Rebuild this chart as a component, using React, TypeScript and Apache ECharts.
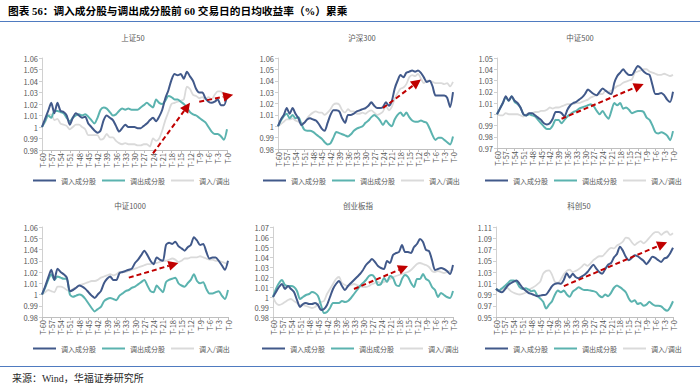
import React, { useEffect, useRef } from "react";
import * as echarts from "echarts";

const categories = [
  "T-60", "T-59", "T-58", "T-57", "T-56", "T-55", "T-54", "T-53", "T-52", "T-51",
  "T-50", "T-49", "T-48", "T-47", "T-46", "T-45", "T-44", "T-43", "T-42", "T-41",
  "T-40", "T-39", "T-38", "T-37", "T-36", "T-35", "T-34", "T-33", "T-32", "T-31",
  "T-30", "T-29", "T-28", "T-27", "T-26", "T-25", "T-24", "T-23", "T-22", "T-21",
  "T-20", "T-19", "T-18", "T-17", "T-16", "T-15", "T-14", "T-13", "T-12", "T-11",
  "T-10", "T-9", "T-8", "T-7", "T-6", "T-5", "T-4", "T-3", "T-2", "T-1", "T-0",
];

const legendNames = ["调入成分股", "调出成分股", "调入/调出"];
const panelTitles = ["上证50", "沪深300", "中证500", "中证1000", "创业板指", "科创50"];
const yMin = [0.98, 0.98, 0.97, 0.98, 0.98, 0.95];
const yMax = [1.06, 1.06, 1.05, 1.06, 1.07, 1.11];
const yStep = [0.01, 0.01, 0.01, 0.01, 0.01, 0.02];

// 上证50
const sz50In = [
  1.000, 1.007, 1.014, 1.021, 1.012, 1.021, 1.014, 1.013, 1.010, 1.002,
  1.008, 1.012, 1.010, 1.008, 1.009, 1.003, 1.000, 0.997, 0.995, 0.997,
  1.006, 1.010, 1.008, 1.006, 1.001, 0.996, 0.999, 1.002, 1.000, 1.000,
  1.000, 0.999, 0.999, 1.001, 1.003, 1.006, 1.008, 1.005, 1.009, 1.015,
  1.025, 1.032, 1.041, 1.046, 1.045, 1.046, 1.042, 1.048, 1.044, 1.040,
  1.033, 1.030, 1.030, 1.025, 1.022, 1.021, 1.022, 1.024, 1.019, 1.019, 1.027,
];
const sz50Out = [
  1.000, 1.005, 1.010, 1.008, 1.014, 1.014, 1.013, 1.012, 1.008, 1.005,
  1.008, 1.010, 1.011, 1.010, 1.011, 1.009, 1.006, 1.003, 1.008, 1.015,
  1.017, 1.016, 1.013, 1.010, 1.011, 1.014, 1.016, 1.015, 1.016, 1.015,
  1.015, 1.015, 1.017, 1.019, 1.021, 1.019, 1.017, 1.024, 1.021, 1.020,
  1.023, 1.027, 1.026, 1.024, 1.024, 1.022, 1.020, 1.017, 1.013, 1.011,
  1.010, 1.008, 1.006, 1.004, 1.000, 0.996, 0.994, 0.994, 0.992, 0.989, 0.998,
];
const sz50Ratio = [
  1.000, 1.004, 1.010, 1.011, 1.006, 1.007, 1.003, 1.002, 1.001, 0.998,
  1.000, 1.002, 1.002, 1.000, 0.998, 0.993, 0.993, 0.993, 0.993, 0.989,
  0.990, 0.994, 0.991, 0.991, 0.988, 0.986, 0.985, 0.986, 0.985, 0.985,
  0.985, 0.984, 0.984, 0.985, 0.985, 0.983, 0.990, 0.988, 0.990, 0.997,
  1.006, 1.013, 1.020, 1.021, 1.022, 1.023, 1.024, 1.035, 1.033, 1.028,
  1.027, 1.025, 1.026, 1.024, 1.026, 1.024, 1.028, 1.031, 1.031, 1.028, 1.029,
];

// 沪深300
const hs300In = [
  1.000, 1.006, 1.010, 1.016, 1.011, 1.016, 1.011, 1.007, 1.001, 1.003,
  1.006, 1.007, 1.006, 1.005, 1.002, 0.998, 0.996, 1.003, 1.010, 1.014,
  1.014, 1.013, 1.007, 1.003, 1.010, 1.010, 1.011, 1.013, 1.014, 1.015,
  1.016, 1.018, 1.021, 1.018, 1.016, 1.016, 1.017, 1.021, 1.018, 1.022,
  1.033, 1.040, 1.045, 1.043, 1.047, 1.048, 1.049, 1.048, 1.049, 1.047,
  1.043, 1.039, 1.040, 1.035, 1.027, 1.027, 1.027, 1.027, 1.025, 1.017, 1.030,
];
const hs300Out = [
  1.000, 1.005, 1.009, 1.011, 1.007, 1.010, 1.007, 1.008, 1.002, 0.997,
  0.996, 0.996, 0.995, 0.993, 0.991, 0.989, 0.986, 0.984, 0.985, 0.990,
  0.995, 0.994, 0.993, 0.992, 0.991, 0.993, 0.996, 0.998, 0.999, 1.000,
  1.003, 1.005, 1.008, 1.010, 1.008, 1.005, 1.001, 1.005, 1.002, 1.000,
  1.006, 1.010, 1.012, 1.009, 1.012, 1.008, 1.005, 1.004, 1.004, 1.005,
  1.004, 1.003, 0.998, 0.992, 0.988, 0.990, 0.990, 0.988, 0.986, 0.984, 0.991,
];
const hs300Ratio = [
  1.000, 1.002, 1.004, 1.006, 1.006, 1.007, 1.005, 1.004, 1.003, 1.003,
  1.007, 1.010, 1.012, 1.013, 1.012, 1.012, 1.010, 1.012, 1.015, 1.019,
  1.020, 1.019, 1.014, 1.012, 1.015, 1.013, 1.013, 1.011, 1.011, 1.012,
  1.011, 1.013, 1.014, 1.012, 1.010, 1.011, 1.013, 1.018, 1.014, 1.017,
  1.024, 1.029, 1.033, 1.034, 1.037, 1.043, 1.045, 1.044, 1.046, 1.042,
  1.038, 1.040, 1.040, 1.039, 1.038, 1.038, 1.038, 1.037, 1.038, 1.035, 1.039,
];

// 中证500
const zz500In = [
  1.000, 1.005, 1.010, 1.016, 1.012, 1.016, 1.012, 1.010, 1.006, 1.000,
  0.999, 1.001, 1.001, 0.999, 0.997, 0.995, 0.992, 0.991, 0.992, 0.996,
  1.002, 1.002, 1.001, 0.998, 1.004, 1.008, 1.010, 1.011, 1.013, 1.015,
  1.018, 1.022, 1.020, 1.018, 1.017, 1.020, 1.023, 1.021, 1.019, 1.018,
  1.028, 1.034, 1.037, 1.040, 1.037, 1.035, 1.035, 1.039, 1.043, 1.041,
  1.038, 1.036, 1.035, 1.026, 1.018, 1.018, 1.019, 1.017, 1.013, 1.011, 1.020,
];
const zz500Out = [
  1.000, 1.005, 1.010, 1.015, 1.012, 1.016, 1.011, 1.009, 1.006, 1.000,
  0.999, 1.000, 0.999, 0.998, 0.995, 0.992, 0.989, 0.987, 0.987, 0.990,
  0.995, 0.995, 0.992, 0.995, 0.998, 1.000, 1.002, 1.003, 1.005, 1.006,
  1.007, 1.008, 1.009, 1.007, 1.003, 1.000, 1.003, 0.999, 0.996, 1.003,
  1.010, 1.008, 1.010, 1.005, 1.006, 1.004, 1.001, 1.002, 1.003, 1.003,
  1.002, 0.997, 0.995, 0.990, 0.984, 0.983, 0.984, 0.983, 0.981, 0.977, 0.985,
];
const zz500Ratio = [
  1.000, 0.999, 0.999, 1.001, 1.000, 1.000, 1.000, 1.000, 0.999, 0.998,
  1.000, 1.001, 1.001, 1.002, 1.002, 1.003, 1.003, 1.004, 1.006, 1.005,
  1.006, 1.006, 1.007, 1.008, 1.009, 1.009, 1.009, 1.010, 1.010, 1.011,
  1.012, 1.013, 1.015, 1.016, 1.017, 1.018, 1.018, 1.021, 1.020, 1.021,
  1.023, 1.025, 1.026, 1.028, 1.029, 1.030, 1.031, 1.037, 1.038, 1.039,
  1.040, 1.040, 1.038, 1.037, 1.036, 1.035, 1.035, 1.036, 1.035, 1.034, 1.035,
];

// 中证1000
const zz1000In = [
  1.000, 1.007, 1.015, 1.022, 1.013, 1.023, 1.020, 1.018, 1.015, 1.003,
  1.004, 1.006, 1.008, 1.007, 1.005, 1.002, 0.999, 0.997, 1.000, 1.003,
  1.010, 1.014, 1.016, 1.013, 1.013, 1.019, 1.020, 1.021, 1.022, 1.023,
  1.028, 1.031, 1.035, 1.039, 1.035, 1.030, 1.027, 1.033, 1.031, 1.030,
  1.044, 1.046, 1.045, 1.047, 1.043, 1.041, 1.039, 1.042, 1.044, 1.051,
  1.048, 1.044, 1.045, 1.038, 1.032, 1.033, 1.033, 1.030, 1.026, 1.022, 1.030,
];
const zz1000Out = [
  1.000, 1.006, 1.013, 1.018, 1.013, 1.016, 1.015, 1.014, 1.014, 1.000,
  0.998, 0.999, 1.000, 0.999, 0.996, 0.992, 0.988, 0.985, 0.987, 0.989,
  0.994, 0.996, 0.997, 0.996, 0.995, 0.999, 1.001, 1.003, 1.004, 1.006,
  1.007, 1.009, 1.011, 1.013, 1.008, 1.003, 1.002, 1.008, 1.005, 1.002,
  1.011, 1.013, 1.014, 1.015, 1.010, 1.008, 1.007, 1.010, 1.013, 1.018,
  1.012, 1.010, 1.011, 1.005, 1.001, 1.001, 1.002, 1.003, 0.999, 0.996, 1.004,
];
const zz1000Ratio = [
  1.000, 1.002, 1.004, 1.003, 1.002, 1.007, 1.007, 1.006, 1.004, 1.003,
  1.005, 1.006, 1.008, 1.009, 1.010, 1.011, 1.012, 1.012, 1.013, 1.015,
  1.016, 1.017, 1.018, 1.017, 1.018, 1.020, 1.020, 1.020, 1.021, 1.022,
  1.023, 1.024, 1.025, 1.026, 1.027, 1.027, 1.028, 1.028, 1.029, 1.030,
  1.030, 1.031, 1.032, 1.031, 1.029, 1.030, 1.032, 1.032, 1.033, 1.033,
  1.033, 1.034, 1.033, 1.032, 1.031, 1.031, 1.030, 1.030, 1.029, 1.028, 1.027,
];

// 创业板指
const cybIn = [
  1.000, 1.005, 1.010, 1.013, 1.008, 1.011, 1.008, 1.005, 0.997, 0.990,
  0.993, 0.994, 0.993, 0.993, 0.994, 0.992, 0.987, 0.988, 0.992, 1.000,
  1.008, 1.013, 1.016, 1.011, 1.007, 1.011, 1.014, 1.017, 1.020, 1.023,
  1.027, 1.032, 1.035, 1.038, 1.035, 1.031, 1.029, 1.028, 1.036, 1.034,
  1.042, 1.044, 1.045, 1.052, 1.045, 1.045, 1.044, 1.050, 1.053, 1.058,
  1.055, 1.047, 1.046, 1.037, 1.027, 1.028, 1.029, 1.028, 1.026, 1.023, 1.032,
];
const cybOut = [
  1.000, 1.008, 1.014, 1.017, 1.012, 1.011, 1.011, 1.010, 1.006, 0.998,
  1.000, 1.002, 1.003, 1.005, 1.004, 1.001, 0.992, 0.984, 0.985, 0.989,
  0.994, 0.994, 0.994, 0.996, 0.995, 0.996, 0.999, 1.003, 1.007, 1.011,
  1.014, 1.017, 1.021, 1.022, 1.019, 1.012, 1.013, 1.019, 1.015, 1.021,
  1.019, 1.012, 1.011, 1.018, 1.022, 1.020, 1.014, 1.010, 1.018, 1.018,
  1.023, 1.018, 1.016, 1.010, 1.007, 1.000, 1.004, 1.002, 1.000, 0.999, 1.006,
];
const cybRatio = [
  1.000, 0.994, 0.992, 0.993, 0.995, 0.997, 0.998, 0.996, 0.994, 0.992,
  0.992, 0.991, 0.990, 0.989, 0.990, 0.993, 0.995, 0.996, 1.003, 1.008,
  1.013, 1.018, 1.020, 1.014, 1.012, 1.011, 1.012, 1.013, 1.012, 1.011,
  1.010, 1.010, 1.011, 1.013, 1.014, 1.015, 1.014, 1.015, 1.016, 1.018,
  1.020, 1.021, 1.022, 1.023, 1.024, 1.025, 1.027, 1.030, 1.033, 1.034,
  1.033, 1.032, 1.030, 1.026, 1.025, 1.026, 1.025, 1.024, 1.025, 1.026, 1.028,
];

// 科创50
const kc50In = [
  1.000, 0.996, 0.994, 0.999, 1.006, 1.010, 1.013, 1.015, 1.009, 1.002,
  0.997, 0.993, 0.991, 0.989, 0.987, 0.988, 0.989, 0.990, 0.997, 1.005,
  1.009, 1.010, 1.009, 1.016, 1.028, 1.020, 1.027, 1.021, 1.019, 1.022,
  1.025, 1.030, 1.037, 1.043, 1.036, 1.030, 1.027, 1.035, 1.043, 1.046,
  1.056, 1.062, 1.075, 1.068, 1.057, 1.051, 1.055, 1.060, 1.058, 1.054,
  1.050, 1.044, 1.050, 1.057, 1.055, 1.051, 1.048, 1.054, 1.056, 1.063, 1.073,
];
const kc50Out = [
  1.000, 0.997, 1.001, 1.005, 1.010, 1.015, 1.015, 1.012, 1.003, 1.000,
  1.001, 0.999, 0.996, 0.997, 0.988, 0.983, 0.977, 0.965, 0.972, 0.978,
  0.990, 0.997, 0.994, 0.997, 0.990, 0.986, 0.995, 0.999, 1.003, 1.000,
  0.998, 0.998, 0.997, 0.996, 0.994, 0.988, 0.985, 0.990, 0.987, 0.993,
  1.002, 1.006, 1.003, 0.999, 0.994, 0.983, 0.977, 0.980, 0.973, 0.975,
  0.970, 0.972, 0.977, 0.973, 0.970, 0.970, 0.969, 0.964, 0.961, 0.967, 0.978,
];
const kc50Ratio = [
  1.000, 0.998, 0.998, 1.002, 1.001, 0.996, 0.993, 0.991, 0.990, 0.991,
  0.993, 0.997, 1.001, 1.004, 1.008, 1.013, 1.027, 1.032, 1.033, 1.025,
  1.012, 1.011, 1.017, 1.026, 1.032, 1.034, 1.030, 1.032, 1.035, 1.039,
  1.044, 1.041, 1.045, 1.051, 1.055, 1.058, 1.058, 1.063, 1.069, 1.073,
  1.072, 1.077, 1.080, 1.084, 1.091, 1.090, 1.083, 1.078, 1.082, 1.085,
  1.081, 1.085, 1.091, 1.097, 1.101, 1.101, 1.096, 1.100, 1.102, 1.096, 1.099,
];

const inSeries = [sz50In, hs300In, zz500In, zz1000In, cybIn, kc50In];
const outSeries = [sz50Out, hs300Out, zz500Out, zz1000Out, cybOut, kc50Out];
const ratioSeries = [sz50Ratio, hs300Ratio, zz500Ratio, zz1000Ratio, cybRatio, kc50Ratio];

// red dashed trend arrows: [fromIndex, fromValue, toIndex, toValue]
const arrowsSz50 = [[36, 0.977, 48, 1.021], [51, 1.022, 62, 1.028]];
const arrowsHs300 = [[36, 1.016, 49, 1.041]];
const arrowsZz500 = [[22, 0.996, 50, 1.027]];
const arrowsZz1000 = [[28, 1.015, 44, 1.028]];
const arrowsCyb = [[27, 1.008, 45, 1.031]];
const arrowsKc50 = [[23, 1.005, 58, 1.083]];
const panelArrows = [arrowsSz50, arrowsHs300, arrowsZz500, arrowsZz1000, arrowsCyb, arrowsKc50];

const headerText = "图表 56：调入成分股与调出成分股前 60 交易日的日均收益率（%）累乘";
const sourceText = "来源：Wind，华福证券研究所";

const COLOR_IN = "#41598A";
const COLOR_OUT = "#5BB3AF";
const COLOR_RATIO = "#DADADA";
const COLOR_ARROW = "#C00000";
const TEXT_GREY = "#595959";
const FONT = "'Noto Sans CJK SC', sans-serif";
const SERIF = "'Liberation Serif', 'Noto Sans CJK SC', serif";

const grids = [
  { left: 42, top: 58, width: 185, height: 92 },
  { left: 278, top: 58, width: 175, height: 91 },
  { left: 497, top: 58, width: 176, height: 90 },
  { left: 42, top: 227, width: 186, height: 90 },
  { left: 273, top: 227, width: 180, height: 90 },
  { left: 496, top: 227, width: 177, height: 90 },
];
const titlePos = [
  [133, 37], [362, 37], [580, 37],
  [130, 205], [358, 205], [579, 205],
];
const legendPos = [
  [33, 177], [263, 177], [485, 177],
  [33, 345], [262, 345], [485, 345],
];

function makeArrowRenderer(arrows: number[][]) {
  return (params: any, api: any) => {
    const a = arrows[params.dataIndex];
    const p0 = api.coord([a[0], a[1]]);
    const p1 = api.coord([a[2], a[3]]);
    const dx = p1[0] - p0[0];
    const dy = p1[1] - p0[1];
    const len = Math.sqrt(dx * dx + dy * dy) || 1;
    const ux = dx / len;
    const uy = dy / len;
    const L = 10;
    const W = 5;
    const bx = p1[0] - ux * L;
    const by = p1[1] - uy * L;
    return {
      type: "group",
      children: [
        {
          type: "line",
          shape: { x1: p0[0], y1: p0[1], x2: bx, y2: by },
          style: { stroke: COLOR_ARROW, lineWidth: 2, lineDash: [5, 3], fill: null },
        },
        {
          type: "polygon",
          shape: {
            points: [
              [p1[0], p1[1]],
              [bx - uy * W, by + ux * W],
              [bx + uy * W, by - ux * W],
            ],
          },
          style: { fill: COLOR_ARROW, stroke: null },
        },
      ],
    };
  };
}

function buildOption() {
  const xAxis: any[] = [];
  const yAxis: any[] = [];
  const series: any[] = [];
  const legend: any[] = [];
  const graphic: any[] = [];

  for (let i = 0; i < 6; i++) {
    xAxis.push({
      gridIndex: i,
      type: "category",
      data: categories,
      boundaryGap: false,
      axisLine: { show: true, lineStyle: { color: "#BFBFBF", width: 1 } },
      axisTick: { show: true, interval: 2, length: 3, lineStyle: { color: "#BFBFBF" } },
      axisLabel: {
        interval: 2,
        rotate: 90,
        fontSize: 7.5,
        color: TEXT_GREY,
        margin: 3,
        fontFamily: FONT,
      },
      splitLine: { show: false },
    });
    yAxis.push({
      gridIndex: i,
      type: "value",
      min: yMin[i],
      max: yMax[i],
      interval: yStep[i],
      axisLine: { show: true, lineStyle: { color: "#D0D0D0", width: 1 } },
      axisTick: { show: true, length: 3, lineStyle: { color: "#D0D0D0" } },
      splitLine: { show: false },
      axisLabel: {
        fontSize: 7.5,
        color: TEXT_GREY,
        margin: 4,
        fontFamily: FONT,
        formatter: (v: number) => String(parseFloat(v.toFixed(2))),
      },
    });
    series.push({
      name: legendNames[2],
      type: "line",
      xAxisIndex: i,
      yAxisIndex: i,
      data: ratioSeries[i],
      showSymbol: false,
      smooth: 0.25,
      lineStyle: { color: COLOR_RATIO, width: 1.8 },
      itemStyle: { color: COLOR_RATIO },
      z: 2,
    });
    series.push({
      name: legendNames[1],
      type: "line",
      xAxisIndex: i,
      yAxisIndex: i,
      data: outSeries[i],
      showSymbol: false,
      smooth: 0.25,
      lineStyle: { color: COLOR_OUT, width: 2 },
      itemStyle: { color: COLOR_OUT },
      z: 3,
    });
    series.push({
      name: legendNames[0],
      type: "line",
      xAxisIndex: i,
      yAxisIndex: i,
      data: inSeries[i],
      showSymbol: false,
      smooth: 0.25,
      lineStyle: { color: COLOR_IN, width: 2 },
      itemStyle: { color: COLOR_IN },
      z: 4,
    });
    series.push({
      type: "custom",
      xAxisIndex: i,
      yAxisIndex: i,
      coordinateSystem: "cartesian2d",
      data: panelArrows[i],
      encode: { x: [0, 2], y: [1, 3] },
      renderItem: makeArrowRenderer(panelArrows[i]),
      clip: false,
      silent: true,
      z: 10,
    });
    legend.push({
      data: legendNames,
      left: legendPos[i][0],
      top: legendPos[i][1],
      icon: "rect",
      itemWidth: 23,
      itemHeight: 2,
      itemGap: 6,
      padding: 0,
      selectedMode: false,
      textStyle: { fontSize: 7, color: TEXT_GREY, fontFamily: FONT },
    });
    graphic.push({
      type: "text",
      x: titlePos[i][0],
      y: titlePos[i][1],
      style: {
        text: panelTitles[i],
        fill: TEXT_GREY,
        fontSize: 7.5,
        fontFamily: FONT,
        align: "center",
        verticalAlign: "middle",
      },
    });
  }

  graphic.push({
    type: "text",
    x: 8,
    y: 11,
    style: {
      text: headerText,
      fill: "#000000",
      fontSize: 10.7,
      fontWeight: "bold",
      fontFamily: SERIF,
      align: "left",
      verticalAlign: "middle",
    },
  });
  graphic.push({
    type: "line",
    shape: { x1: 0, y1: 21.5, x2: 700, y2: 21.5 },
    style: { stroke: "#4F7BC0", lineWidth: 1 },
  });
  graphic.push({
    type: "line",
    shape: { x1: 0, y1: 366.5, x2: 700, y2: 366.5 },
    style: { stroke: "#4F7BC0", lineWidth: 1 },
  });
  graphic.push({
    type: "text",
    x: 12,
    y: 378,
    style: {
      text: sourceText,
      fill: "#262626",
      fontSize: 10,
      fontFamily: SERIF,
      align: "left",
      verticalAlign: "middle",
    },
  });

  return {
    animation: false,
    backgroundColor: "#FFFFFF",
    grid: grids,
    xAxis,
    yAxis,
    series,
    legend,
    graphic,
  };
}

export default function App() {
  const ref = useRef<HTMLDivElement>(null);
  useEffect(() => {
    if (!ref.current) return;
    const chart = echarts.init(ref.current, undefined, { renderer: "svg" });
    chart.setOption(buildOption() as any);
    return () => {
      chart.dispose();
    };
  }, []);
  return (
    <div
      ref={ref}
      style={{ position: "absolute", left: 0, top: 0, width: 700, height: 390 }}
    />
  );
}
